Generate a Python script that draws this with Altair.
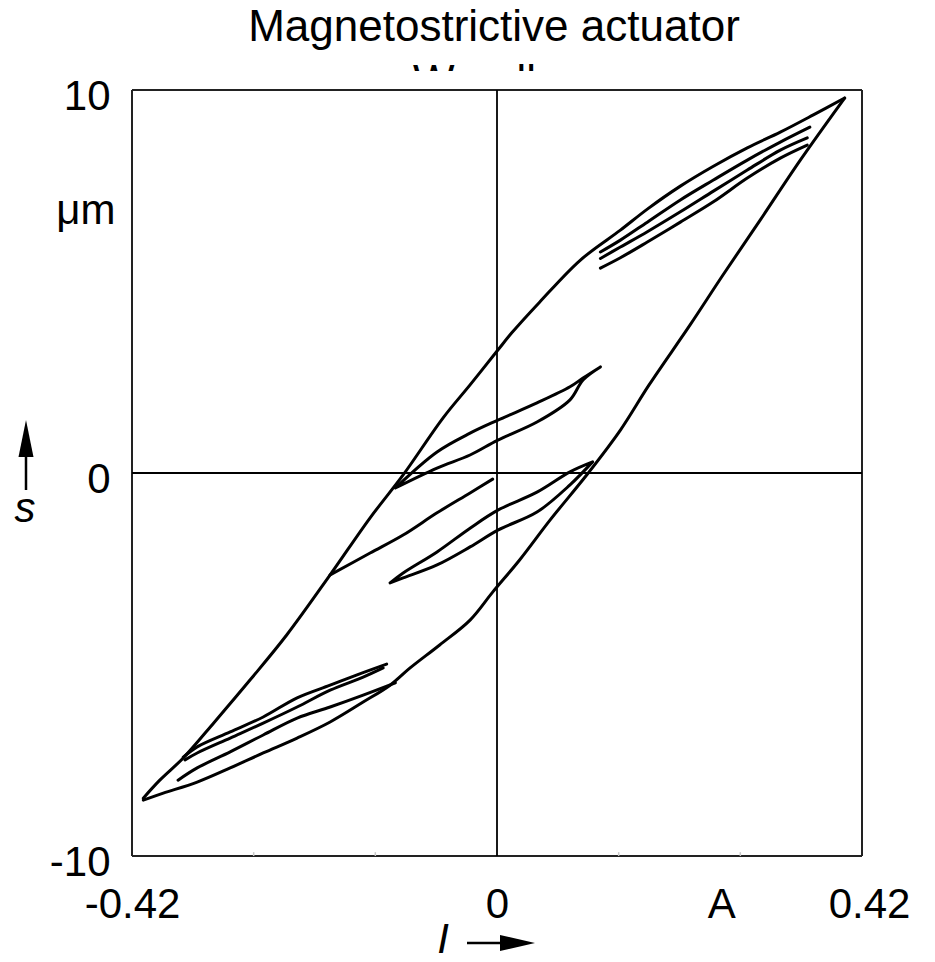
import altair as alt
import pandas as pd

FONT = "Liberation Sans"

# ---- hysteresis branches: current I (A) and stroke s (um) ----
# major loop, descending branch (from the positive tip down to the negative tip)
DESC_I = [0.400, 0.364, 0.326, 0.288, 0.249, 0.211, 0.173, 0.142, 0.096, 0.049,
          0.017, 0.001, -0.031, -0.062, -0.108, -0.146, -0.192, -0.242, -0.284,
          -0.325, -0.361, -0.388, -0.407]
DESC_S = [9.79, 9.35, 8.90, 8.49, 8.01, 7.49, 6.89, 6.34, 5.56, 4.46,
          3.66, 3.21, 2.30, 1.44, -0.05, -1.17, -2.66, -4.23, -5.40,
          -6.50, -7.44, -8.02, -8.49]

# major loop, ascending branch
ASC_I = [-0.407, -0.384, -0.345, -0.307, -0.269, -0.230, -0.192, -0.154, -0.123,
         -0.100, -0.066, -0.031, -0.005, 0.026, 0.061, 0.105, 0.142, 0.175,
         0.222, 0.260, 0.303, 0.349, 0.400]
ASC_S = [-8.54, -8.36, -8.07, -7.70, -7.31, -6.92, -6.50, -5.98, -5.54,
         -5.09, -4.49, -3.84, -3.11, -2.27, -1.23, 0.00, 1.12, 2.30,
         3.86, 5.17, 6.61, 8.17, 9.79]

# minor loops near the positive tip
UR_I = [0.119, 0.142, 0.173, 0.211, 0.249, 0.288, 0.326, 0.357]
UR_ASC1_S = [5.35, 5.62, 6.03, 6.55, 7.08, 7.70, 8.22, 8.56]
UR_ASC2_S = [5.60, 5.90, 6.30, 6.82, 7.36, 7.91, 8.43, 8.75]
UR_DESC_I = [0.360, 0.326, 0.288, 0.249, 0.211, 0.173, 0.142, 0.119]
UR_DESC_S = [9.03, 8.64, 8.17, 7.65, 7.13, 6.55, 6.08, 5.77]

# minor loops near the negative tip
LL1_I = [-0.127, -0.161, -0.192, -0.230, -0.269, -0.307, -0.345, -0.361]
LL1_S = [-4.99, -5.27, -5.54, -5.87, -6.37, -6.76, -7.15, -7.42]
LL2_I = [-0.131, -0.154, -0.192, -0.230, -0.269, -0.307, -0.345, -0.359]
LL2_S = [-5.09, -5.33, -5.67, -6.11, -6.53, -6.92, -7.31, -7.49]
LL3_I = [-0.117, -0.154, -0.192, -0.230, -0.269, -0.307, -0.345, -0.367]
LL3_S = [-5.48, -5.80, -6.11, -6.40, -6.84, -7.28, -7.70, -8.02]

# small loop above the origin
CU_I = [-0.117, -0.069, -0.031, 0.001, 0.046, 0.084, 0.099, 0.119]
CU_UPPER_S = [-0.39, 0.55, 1.04, 1.38, 1.83, 2.25, 2.48, 2.77]
CU_LOWER_S = [-0.39, 0.13, 0.47, 0.86, 1.33, 1.91, 2.43, 2.77]

# small loop below the origin
CL_I = [-0.123, -0.108, -0.069, -0.031, 0.001, 0.046, 0.084, 0.110]
CL_UPPER_S = [-2.87, -2.61, -2.06, -1.44, -0.97, -0.50, 0.03, 0.29]
CL_LOWER_S = [-2.87, -2.74, -2.40, -1.93, -1.49, -1.02, -0.31, 0.29]

# path ending near the origin
END_I = [-0.192, -0.146, -0.108, -0.069, -0.031, -0.005]
END_S = [-2.66, -2.09, -1.62, -1.04, -0.52, -0.16]

X_TICKS = [-0.42, 0, 0.28, 0.42]
X_LABELS = ["-0.42", "0", "A", "0.42"]
X_MINOR = [-0.28, -0.14, 0.14, 0.28]
Y_TICKS = [-10, 0, 7, 10]
Y_LABELS = ["-10", "0", "\u03bcm", "10"]

TITLE = ["Magnetostrictive actuator"]
SUBTITLE = ["Wandler"]
Y_NAME = ["s"]
X_NAME = ["I"]

branches = [
    ("desc", DESC_I, DESC_S),
    ("asc", ASC_I, ASC_S),
    ("ur_asc1", UR_I, UR_ASC1_S),
    ("ur_asc2", UR_I, UR_ASC2_S),
    ("ur_desc", UR_DESC_I, UR_DESC_S),
    ("ll1", LL1_I, LL1_S),
    ("ll2", LL2_I, LL2_S),
    ("ll3", LL3_I, LL3_S),
    ("cu", CU_I + CU_I[::-1], CU_UPPER_S + CU_LOWER_S[::-1]),
    ("cl", CL_I + CL_I[::-1], CL_UPPER_S + CL_LOWER_S[::-1]),
    ("end", END_I, END_S),
]
rows = []
for name, xs, ys in branches:
    for k, (i_val, s_val) in enumerate(zip(xs, ys)):
        rows.append({"branch": name, "k": k, "I": i_val, "s": s_val})
curves_df = pd.DataFrame(rows)

W, H = 730, 766
xscale = alt.Scale(domain=[-0.42, 0.42], nice=False, zero=False)
yscale = alt.Scale(domain=[-10, 10], nice=False, zero=False)


def label_expr(values, labels):
    parts = [f"datum.value == {v} ? '{t}'" for v, t in zip(values, labels)]
    return " : ".join(parts) + " : ''"


x_axis = alt.Axis(
    values=X_TICKS, labelExpr=label_expr(X_TICKS, X_LABELS), title=None,
    ticks=False, tickSize=0, domain=False, grid=False,
    labelFont=FONT, labelFontSize=42, labelColor="black",
    labelBaseline="alphabetic", labelPadding=61, labelFlush=False,
    labelOverlap=False, labelAlign="center",
    labelOffset={"condition": [{"test": "datum.value > 0.3", "value": 7},
                               {"test": "datum.value > 0.2", "value": -19}],
                 "value": 0},
)
y_axis = alt.Axis(
    values=Y_TICKS, labelExpr=label_expr(Y_TICKS, Y_LABELS), title=None,
    ticks=False, tickSize=0, domain=False, grid=False,
    labelFont=FONT, labelFontSize=42, labelColor="black",
    labelBaseline="alphabetic", labelOffset=19, labelFlush=False,
    labelOverlap=False, labelAlign="right",
    labelPadding={"condition": {"test": "datum.value == 7", "value": 17},
                  "value": 22},
)

# hidden second title line, only the tops of its tall letters peek out
subtitle = alt.Chart(pd.DataFrame({"t": SUBTITLE})).mark_text(
    font=FONT, fontSize=44, color="black", align="center", baseline="alphabetic"
).encode(x=alt.value(362), y=alt.value(6), text="t:N")
mask = alt.Chart(pd.DataFrame({"t": SUBTITLE})).mark_rect(color="white").encode(
    x=alt.value(240), x2=alt.value(490), y=alt.value(-19), y2=alt.value(12)
)
title = alt.Chart(pd.DataFrame({"t": TITLE})).mark_text(
    font=FONT, fontSize=44, color="black", align="center", baseline="alphabetic"
).encode(x=alt.value(362), y=alt.value(-49), text="t:N")

# plot frame and zero axes
frame_df = pd.DataFrame({
    "x1": [-0.42, -0.42, -0.42, 0.42],
    "x2": [0.42, 0.42, -0.42, 0.42],
    "y1": [10, -10, -10, -10],
    "y2": [10, -10, 10, 10],
})
frame = alt.Chart(frame_df).mark_rule(color="#222222", strokeWidth=2).encode(
    x=alt.X("x1:Q", scale=xscale, axis=x_axis), x2="x2:Q",
    y=alt.Y("y1:Q", scale=yscale, axis=y_axis), y2="y2:Q",
)
# faint inward ticks on the current axis
minor_df = pd.DataFrame({"x": X_MINOR, "y1": [-10] * 4, "y2": [-9.9] * 4})
minor = alt.Chart(minor_df).mark_rule(color="#c8c8c8", strokeWidth=1.5).encode(
    x=alt.X("x:Q", scale=xscale),
    y=alt.Y("y1:Q", scale=yscale), y2="y2:Q",
)
zero_df = pd.DataFrame({
    "x1": [-0.42, 0.0], "x2": [0.42, 0.0], "y1": [0.0, -10], "y2": [0.0, 10],
})
zeros = alt.Chart(zero_df).mark_rule(color="black", strokeWidth=1.8).encode(
    x=alt.X("x1:Q", scale=xscale), x2="x2:Q",
    y=alt.Y("y1:Q", scale=yscale), y2="y2:Q",
)

curves = alt.Chart(curves_df).mark_line(
    color="black", strokeWidth=3, strokeJoin="round", strokeCap="round",
    interpolate="catmull-rom",
).encode(
    x=alt.X("I:Q", scale=xscale),
    y=alt.Y("s:Q", scale=yscale),
    detail="branch:N",
    order="k:Q",
)

# axis names with arrows
s_name = alt.Chart(pd.DataFrame({"t": Y_NAME})).mark_text(
    font=FONT, fontSize=42, fontStyle="italic", color="black",
    align="center", baseline="alphabetic"
).encode(x=alt.value(-107), y=alt.value(432), text="t:N")
s_shaft = alt.Chart(pd.DataFrame({"t": Y_NAME})).mark_rule(
    color="black", strokeWidth=2.5
).encode(x=alt.value(-106), y=alt.value(360), y2=alt.value(400))
s_head = alt.Chart(pd.DataFrame({"t": Y_NAME})).mark_point(
    shape="M0,-1L-0.405,1L0.405,1Z", filled=True, color="black",
    size=1369, opacity=1, strokeWidth=0
).encode(x=alt.value(-106), y=alt.value(348.5))

i_name = alt.Chart(pd.DataFrame({"t": X_NAME})).mark_text(
    font=FONT, fontSize=42, fontStyle="italic", color="black",
    align="center", baseline="alphabetic"
).encode(x=alt.value(311), y=alt.value(863), text="t:N")
i_shaft = alt.Chart(pd.DataFrame({"t": X_NAME})).mark_rule(
    color="black", strokeWidth=2.5
).encode(x=alt.value(335), x2=alt.value(372), y=alt.value(853))
i_head = alt.Chart(pd.DataFrame({"t": X_NAME})).mark_point(
    shape="M1,0L-1,-0.46L-1,0.46Z", filled=True, color="black",
    size=1225, opacity=1, strokeWidth=0
).encode(x=alt.value(385.5), y=alt.value(853))

chart = alt.layer(
    subtitle, mask, frame, minor, zeros, curves, title,
    s_name, s_shaft, s_head, i_name, i_shaft, i_head,
).properties(
    width=W, height=H,
    autosize=alt.AutoSizeParams(type="none"),
    padding={"left": 132, "top": 90, "right": 73, "bottom": 106},
    background="white",
).configure_view(stroke=None)

chart.save("out.html", embed_options={"renderer": "svg", "actions": False})
